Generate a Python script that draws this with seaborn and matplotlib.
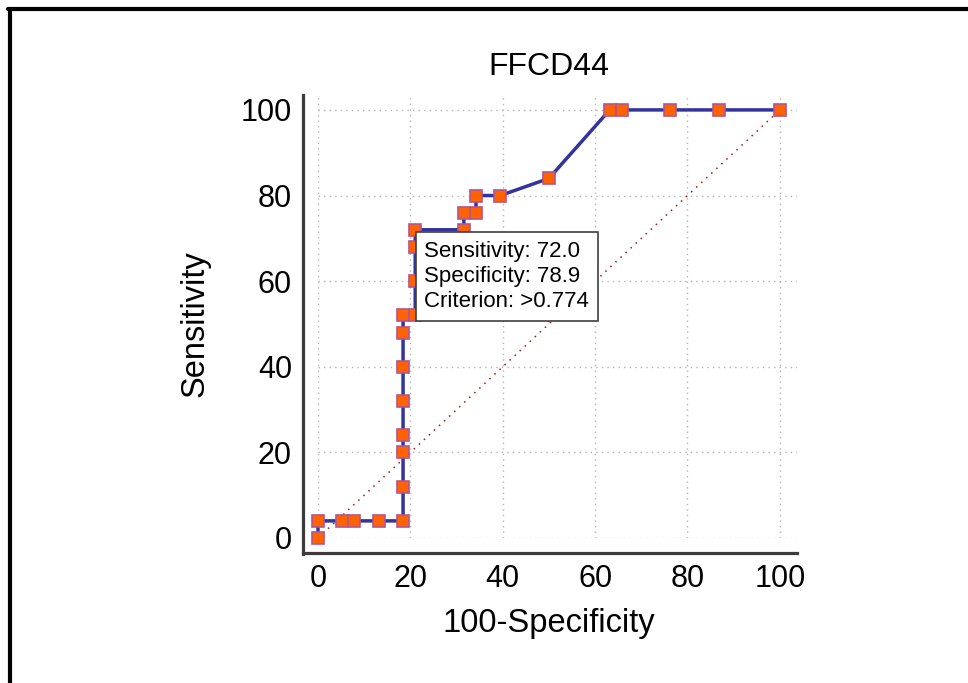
import pandas as pd
import matplotlib.pyplot as plt
from matplotlib.lines import Line2D
import seaborn as sns

# ROC points for FFCD44 (100-Specificity vs Sensitivity)
fpr = [0, 0, 5.26, 7.89, 13.16, 18.42, 18.42, 18.42, 18.42, 18.42, 18.42, 18.42,
       18.42, 21.05, 21.05, 21.05, 21.05, 31.58, 31.58, 34.21, 34.21, 39.47,
       50.0, 63.16, 65.79, 76.32, 86.84, 100]
sens = [0, 4, 4, 4, 4, 4, 12, 20, 24, 32, 40, 48,
        52, 52, 60, 68, 72, 72, 76, 76, 80, 80,
        84, 100, 100, 100, 100, 100]
diag = [0, 100]
ticks = [0, 20, 40, 60, 80, 100]
minor_ticks = list(range(0, 101, 5))

# best cut-off
best_x, best_y = 21.05, 72
best_label = 'Sensitivity: 72.0\nSpecificity: 78.9\nCriterion: >0.774'

df_roc = pd.DataFrame({'fpr': fpr, 'sens': sens})

sns.set_style('white')
plt.rcParams['font.family'] = ['Liberation Sans', 'DejaVu Sans']
plt.rcParams['text.color'] = 'black'
plt.rcParams['axes.labelcolor'] = 'black'

fig = plt.figure(figsize=(9.68, 6.83), dpi=100)
ax = fig.add_axes([0.3285, 0.2123, 0.4948, 0.6487])

# reference diagonal
sns.lineplot(x=diag, y=diag, ax=ax, color='#a01818', linewidth=1.1,
             linestyle=(0, (1, 3.5)), zorder=2)

# ROC curve
sns.lineplot(data=df_roc, x='fpr', y='sens', ax=ax, estimator=None, sort=False,
             color='#33339c', linewidth=2.5, marker='s', markersize=8.8,
             markerfacecolor='#ff6200', markeredgecolor='#b5548e',
             markeredgewidth=1.2, clip_on=False, zorder=3)

ax.set_xlim(0, 103.7)
ax.set_ylim(0, 103.5)
ax.set_xticks(ticks)
ax.set_yticks(ticks)
ax.set_xticks(minor_ticks, minor=True)
ax.set_yticks(minor_ticks, minor=True)
ax.grid(True, which='major', color='#b4b4b4', linestyle=(0, (1, 3)), linewidth=1)

sns.despine(ax=ax)
for side in ['left', 'bottom']:
    ax.spines[side].set_position(('outward', 10.8))
    ax.spines[side].set_linewidth(2.3)
    ax.spines[side].set_color('#3c3c3c')
ax.spines['left'].set_bounds(-3.7, 103.5)
ax.spines['bottom'].set_bounds(-3.2, 103.7)

ax.tick_params(which='major', direction='in', length=11, width=2.3,
               color='#3c3c3c', labelcolor='black', labelsize=22, pad=8)
ax.tick_params(which='minor', direction='in', length=5.5, width=1.3,
               color='#3c3c3c')

ax.set_xlabel('100-Specificity', fontsize=23.5)
ax.set_ylabel('Sensitivity', fontsize=23.5)
ax.xaxis.set_label_coords(50 / 103.7, -0.158)
ax.yaxis.set_label_coords(-0.225, 0.483)
ax.text(50 / 103.7, 1.03, 'FFCD44', transform=ax.transAxes, ha='center',
        va='bottom', fontsize=23)

ax.text(best_x + 2.0, best_y - 2.6, best_label, ha='left', va='top', fontsize=16,
        linespacing=1.25, zorder=6,
        bbox=dict(boxstyle='square,pad=0.4', fc='white', ec='#404040', lw=1.2))

# outer frame
fig.add_artist(Line2D([0.008, 1.0], [0.9868, 0.9868], color='black',
                      linewidth=3, transform=fig.transFigure))
fig.add_artist(Line2D([0.0103, 0.0103], [0.0, 0.9868], color='black',
                      linewidth=3, transform=fig.transFigure))

plt.savefig('out.png', dpi=100)
